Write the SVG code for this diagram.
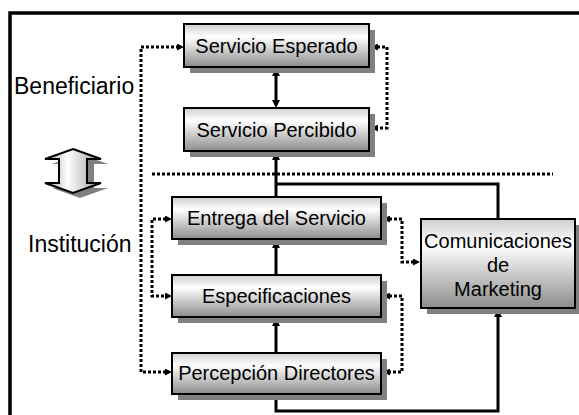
<svg xmlns="http://www.w3.org/2000/svg" width="579" height="415" viewBox="0 0 579 415">
<style>
.box{stroke:#000;stroke-width:2;fill:url(#g)}
.sh{fill:#808080}
.t{font-family:"Liberation Sans",Arial,sans-serif;font-size:20px;fill:#000;text-anchor:middle}
.lbl{font-family:"Liberation Sans",Arial,sans-serif;font-size:23px;fill:#000}
.solid{fill:none;stroke:#000;stroke-width:3}
.dot{fill:none;stroke:#000;stroke-width:3;stroke-dasharray:3 2}
</style>
<defs>
<linearGradient id="g" x1="0" y1="0" x2="0" y2="1">
<stop offset="0" stop-color="#cfcfcf"/>
<stop offset="0.3" stop-color="#ffffff"/>
<stop offset="1" stop-color="#8c8c8c"/>
</linearGradient>
<linearGradient id="ga" x1="0" y1="0" x2="1" y2="0">
<stop offset="0" stop-color="#9a9a9a"/>
<stop offset="0.4" stop-color="#ffffff"/>
<stop offset="1" stop-color="#9a9a9a"/>
</linearGradient>
<marker id="ah" markerUnits="userSpaceOnUse" viewBox="0 0 8 8" markerWidth="8" markerHeight="8" refX="1" refY="4" orient="auto-start-reverse">
<path d="M0,0 L8,4 L0,8 z" fill="#000"/>
</marker>
<marker id="dh" markerUnits="userSpaceOnUse" viewBox="0 0 7 7" markerWidth="7" markerHeight="7" refX="1" refY="3.5" orient="auto-start-reverse">
<path d="M0,0 L7,3.5 L0,7 z" fill="#000"/>
</marker>
</defs>
<rect width="579" height="415" fill="#fff"/>
<path d="M10,415 V13 H579" fill="none" stroke="#000" stroke-width="3.5"/>

<g id="updown">
<polygon class="sh" points="80,154 108,164 94,164 94,188 108,188 80,198 52,188 66,188 66,164 52,164"/>
<polygon points="73,149 101,159 87,159 87,183 101,183 73,193 45,183 59,183 59,159 45,159" fill="url(#ga)" stroke="#000" stroke-width="2"/>
</g>

<text class="lbl" x="14" y="94">Beneficiario</text>
<text class="lbl" x="28" y="252">Institución</text>

<g id="connectors">
<path class="solid" d="M276,75 V101" marker-start="url(#ah)" marker-end="url(#ah)"/>
<path class="solid" d="M276,197 V159" marker-end="url(#ah)"/>
<path class="solid" d="M276,275 V247" marker-end="url(#ah)"/>
<path class="solid" d="M276,353 V325" marker-end="url(#ah)"/>
<path class="solid" d="M498,219 V184 H276"/>
<path class="solid" d="M276,395 V411 H498 V316" marker-end="url(#ah)"/>
<path class="dot" d="M166,372 H141 V47 H178" marker-start="url(#dh)" marker-end="url(#dh)"/>
<path class="dot" d="M166,219 H152 V296 H166" marker-start="url(#dh)" marker-end="url(#dh)"/>
<path class="dot" d="M377,47 H387 V128 H377" marker-start="url(#dh)" marker-end="url(#dh)"/>
<path class="dot" d="M389,219 H402 V262 H414" marker-start="url(#dh)" marker-end="url(#dh)"/>
<path class="dot" d="M389,296 H402 V372 H389" marker-start="url(#dh)" marker-end="url(#dh)"/>
<path class="dot" d="M152,174 H553"/>
</g>

<g id="servicio-esperado">
<rect class="sh" x="190" y="30" width="185" height="43"/>
<rect class="box" x="184" y="24" width="185" height="43"/>
<text class="t" x="276.5" y="53">Servicio Esperado</text>
</g>
<g id="servicio-percibido">
<rect class="sh" x="190" y="114" width="185" height="43"/>
<rect class="box" x="184" y="108" width="185" height="43"/>
<text class="t" x="276.5" y="137">Servicio Percibido</text>
</g>
<g id="entrega">
<rect class="sh" x="178" y="203" width="209" height="42"/>
<rect class="box" x="172" y="197" width="209" height="42"/>
<text class="t" x="276.5" y="225">Entrega del Servicio</text>
</g>
<g id="especificaciones">
<rect class="sh" x="178" y="281" width="209" height="42"/>
<rect class="box" x="172" y="275" width="209" height="42"/>
<text class="t" x="276.5" y="303">Especificaciones</text>
</g>
<g id="percepcion">
<rect class="sh" x="178" y="359" width="209" height="41"/>
<rect class="box" x="172" y="353" width="209" height="41"/>
<text class="t" x="276.5" y="380">Percepción Directores</text>
</g>
<g id="comunicaciones">
<rect class="sh" x="427" y="225" width="154" height="89"/>
<rect class="box" x="421" y="219" width="154" height="89"/>
<text class="t" x="498" y="248">Comunicaciones</text>
<text class="t" x="498" y="272">de</text>
<text class="t" x="498" y="296">Marketing</text>
</g>
</svg>
